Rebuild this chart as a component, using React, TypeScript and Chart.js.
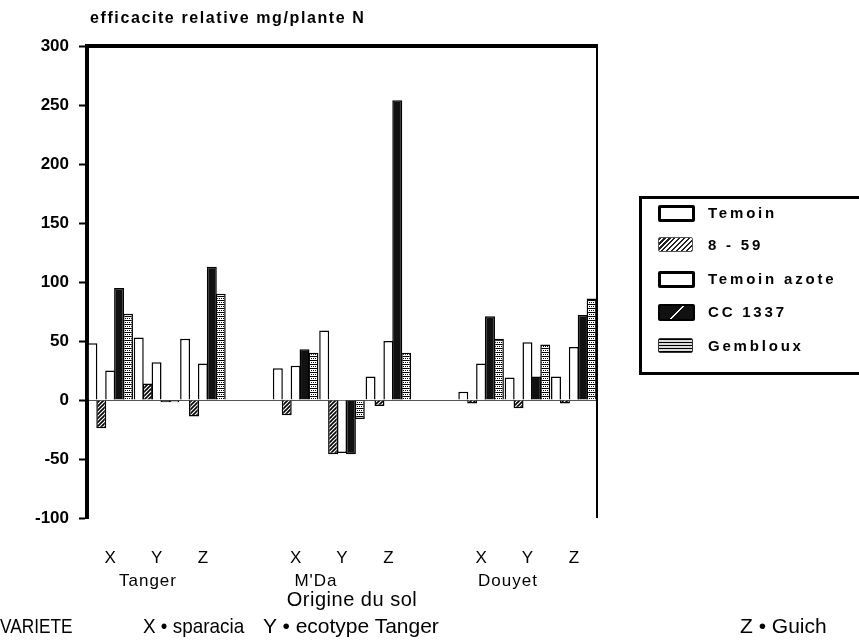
import React, { useEffect, useRef } from 'react';
import { Chart, registerables } from 'chart.js';
Chart.register(...registerables);

const categories = ['X', 'Y', 'Z', '', 'X', 'Y', 'Z', '', 'X', 'Y', 'Z'];
const groupNames = ['Tanger', "M'Da", 'Douyet'];
const seriesNames = ['Temoin', '8 - 59', 'Temoin azote', 'CC 1337', 'Gembloux'];
const temoin = [48, 53, 52, null, 27, 59, 20, null, 7, 19, 20];
const s859 = [-24, 14, -14, null, -13, -46, -5, null, -3, -7, -3];
const temoinAzote = [25, 32, 31, null, 29, -45, 50, null, 31, 49, 45];
const cc1337 = [95, -2, 113, null, 43, -46, 254, null, 71, 20, 72];
const gembloux = [73, -2, 90, null, 40, -16, 40, null, 52, 47, 86];
const yMin = -100;
const yMax = 300;
const yStep = 50;
const yTitle = 'efficacite relative mg/plante N';
const xTitle = 'Origine du sol';
const varieteLabel = 'VARIETE';
const varieteItems = ['X \u2022 sparacia', 'Y \u2022 ecotype Tanger', 'Z \u2022 Guich'];

function makePattern(kind: string): CanvasPattern | string {
  const c = document.createElement('canvas');
  const s = kind === 'hatch' ? 4 : 4;
  c.width = s; c.height = s;
  const g = c.getContext('2d');
  if (!g) return '#999';
  g.fillStyle = '#fff';
  g.fillRect(0, 0, s, s);
  g.strokeStyle = '#000';
  g.fillStyle = '#000';
  if (kind === 'hatch') {
    g.lineWidth = 1.6;
    g.beginPath();
    g.moveTo(0, s); g.lineTo(s, 0);
    g.moveTo(-1, 1); g.lineTo(1, -1);
    g.moveTo(s - 1, s + 1); g.lineTo(s + 1, s - 1);
    g.stroke();
  } else {
    g.fillRect(0, 0, s, 1);
    g.fillRect(1, 2, 1, 1);
    g.fillRect(3, 2, 1, 1);
  }
  const p = g.createPattern(c, 'repeat');
  return p || '#999';
}

const framePlugin = {
  id: 'frame',
  afterDraw(chart: any) {
    const { ctx, chartArea } = chart;
    ctx.save();
    ctx.strokeStyle = '#000';
    ctx.lineWidth = 4;
    ctx.beginPath();
    ctx.moveTo(chartArea.left - 2, chartArea.top);
    ctx.lineTo(chartArea.right + 1, chartArea.top);
    ctx.stroke();
    ctx.lineWidth = 2;
    ctx.beginPath();
    ctx.moveTo(chartArea.right, chartArea.top);
    ctx.lineTo(chartArea.right, chartArea.bottom);
    ctx.stroke();
    ctx.restore();
  },
};

const sans = "'Liberation Sans', Arial, sans-serif";

export default function App() {
  const ref = useRef<HTMLCanvasElement>(null);
  useEffect(() => {
    if (!ref.current) return;
    const hatch = makePattern('hatch');
    const grid = makePattern('grid');
    const fills = ['#ffffff', hatch, '#ffffff', '#111111', grid];
    const values = [temoin, s859, temoinAzote, cc1337, gembloux];
    const chart = new Chart(ref.current, {
      type: 'bar',
      data: {
        labels: categories,
        datasets: seriesNames.map((n, i) => ({
          label: n,
          data: values[i],
          backgroundColor: fills[i] as any,
          borderColor: '#000',
          borderWidth: 1.5,
          categoryPercentage: 0.96,
          barPercentage: 1.12,
        })),
      },
      options: {
        responsive: false,
        animation: false,
        devicePixelRatio: 1,
        layout: { padding: { left: 0, top: 46, right: 262, bottom: 0 } },
        plugins: { legend: { display: false }, tooltip: { enabled: false } },
        scales: {
          x: {
            afterFit: (s: any) => { s.height = 124; },
            grid: { display: false },
            border: { display: false },
            ticks: { color: '#000', padding: 22, font: { family: sans, size: 17 }, maxRotation: 0, autoSkip: false },
          },
          y: {
            min: yMin,
            max: yMax,
            afterFit: (s: any) => { s.width = 87; },
            ticks: { stepSize: yStep, color: '#000', padding: 10, font: { family: sans, size: 17, weight: 'bold' } },
            grid: {
              drawOnChartArea: true,
              drawTicks: true,
              tickLength: 8,
              tickColor: '#000',
              tickWidth: 2,
              lineWidth: 1,
              color: (c: any) => (c.tick && c.tick.value === 0 ? '#555' : 'rgba(0,0,0,0)'),
            },
            border: { display: true, color: '#000', width: 4 },
          },
        },
      },
      plugins: [framePlugin],
    });
    return () => chart.destroy();
  }, []);

  const legendSwatch = (i: number): React.CSSProperties => {
    const base: React.CSSProperties = { position: 'absolute', left: 16, width: 33, height: 13, border: '2px solid #000', borderRadius: 2 };
    if (i === 1) return { ...base, border: '1px solid #555', background: 'repeating-linear-gradient(135deg, #222 0 1.5px, #fff 1.5px 3.5px)' };
    if (i === 3) return { ...base, background: 'linear-gradient(135deg, #111 48%, #fff 48%, #fff 54%, #111 54%)' };
    if (i === 4) return { ...base, border: '1px solid #333', background: 'repeating-linear-gradient(0deg, #000 0 1px, #ddd 1px 3px)' };
    return { ...base, border: '3px solid #000', width: 31, height: 11, background: '#fff' };
  };
  const legendRows = [213, 245, 279, 312, 346];
  const groupCenters = [148, 316, 508];

  return (
    <div style={{ position: 'fixed', left: 0, top: 0, width: 859, height: 642, overflow: 'hidden', background: '#fff', fontFamily: sans, color: '#000' }}>
      <canvas ref={ref} width={859} height={642} style={{ position: 'absolute', left: 0, top: 0 }} />
      <div style={{ position: 'absolute', left: 90, top: 9, fontSize: 16, fontWeight: 'bold', letterSpacing: 1.6, whiteSpace: 'nowrap' }}>{yTitle}</div>
      {groupNames.map((g, i) => (
        <div key={g} style={{ position: 'absolute', left: groupCenters[i] - 60, width: 120, top: 571, textAlign: 'center', fontSize: 17, letterSpacing: 1, whiteSpace: 'nowrap' }}>{g}</div>
      ))}
      <div style={{ position: 'absolute', left: 252, width: 200, top: 588, textAlign: 'center', fontSize: 20, letterSpacing: 0.5, whiteSpace: 'nowrap' }}>{xTitle}</div>
      <div style={{ position: 'absolute', left: 0, top: 614, fontSize: 21, whiteSpace: 'nowrap', transform: 'scaleX(0.82)', transformOrigin: 'left center' }}>{varieteLabel}</div>
      <div style={{ position: 'absolute', left: 143, top: 614, fontSize: 21, whiteSpace: 'nowrap', transform: 'scaleX(0.9)', transformOrigin: 'left center' }}>{varieteItems[0]}</div>
      <div style={{ position: 'absolute', left: 263, top: 614, fontSize: 21, whiteSpace: 'nowrap' }}>{varieteItems[1]}</div>
      <div style={{ position: 'absolute', left: 740, top: 614, fontSize: 21, whiteSpace: 'nowrap' }}>{varieteItems[2]}</div>
      <div style={{ position: 'absolute', left: 639, top: 196, width: 240, height: 173, border: '3px solid #000' }}>
        {seriesNames.map((n, i) => (
          <React.Fragment key={n}>
            <div style={{ ...legendSwatch(i), top: legendRows[i] - 196 - 3 - 8 }} />
            <div style={{ position: 'absolute', left: 66, top: legendRows[i] - 196 - 3 - 10, fontSize: 15, fontWeight: 'bold', letterSpacing: 2.8, whiteSpace: 'nowrap', lineHeight: '20px' }}>{n}</div>
          </React.Fragment>
        ))}
      </div>
    </div>
  );
}
